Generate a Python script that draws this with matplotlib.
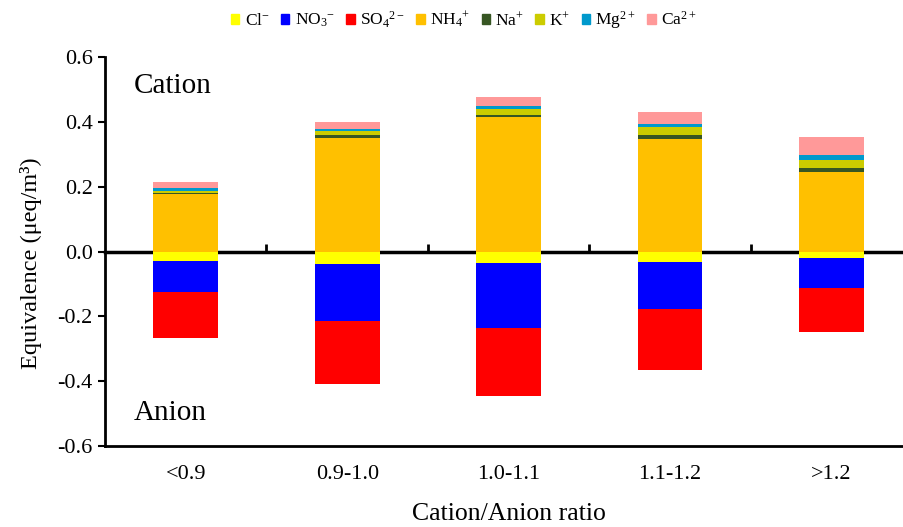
import numpy as np
import matplotlib
matplotlib.use("Agg")
import matplotlib.pyplot as plt
from matplotlib.patches import Patch

plt.rcParams['font.family'] = ['Liberation Serif', 'DejaVu Serif']
plt.rcParams['mathtext.fontset'] = 'custom'
plt.rcParams['mathtext.rm'] = 'Liberation Serif'
plt.rcParams['mathtext.it'] = 'Liberation Serif'
plt.rcParams['axes.unicode_minus'] = False

# data (ueq/m3)
categories = ['<0.9', '0.9-1.0', '1.0-1.1', '1.1-1.2', '>1.2']
cl = [0.028, 0.038, 0.036, 0.032, 0.020]
no3 = [0.098, 0.175, 0.200, 0.146, 0.091]
so4 = [0.140, 0.197, 0.210, 0.189, 0.136]
nh4 = [0.176, 0.351, 0.414, 0.347, 0.245]
na = [0.006, 0.008, 0.008, 0.012, 0.012]
k = [0.006, 0.012, 0.019, 0.024, 0.024]
mg = [0.008, 0.008, 0.009, 0.012, 0.016]
ca = [0.020, 0.022, 0.028, 0.036, 0.057]
yticks = [-0.6, -0.4, -0.2, 0.0, 0.2, 0.4, 0.6]

anions = [(r'Cl$^{\mathrm{-}}$', cl, '#FFFF00'),
          (r'NO$_3$$^{\mathrm{-}}$', no3, '#0000FF'),
          (r'SO$_4$$^{\mathrm{2-}}$', so4, '#FF0000')]
cations = [(r'NH$_4$$^{\mathrm{+}}$', nh4, '#FFC000'),
           (r'Na$^{\mathrm{+}}$', na, '#375623'),
           (r'K$^{\mathrm{+}}$', k, '#CCCC00'),
           (r'Mg$^{\mathrm{2+}}$', mg, '#0099CC'),
           (r'Ca$^{\mathrm{2+}}$', ca, '#FF9999')]

fig = plt.figure(figsize=(9.04, 5.27), dpi=100)
ax = fig.add_axes([0.1162, 0.1537, 0.893, 0.738])

x = np.arange(len(categories))
w = 0.4

bottom = np.zeros(len(x))
for name, vals, col in cations:
    ax.bar(x, vals, w, bottom=bottom, color=col, edgecolor='none')
    bottom += np.array(vals)

bottom = np.zeros(len(x))
for name, vals, col in anions:
    ax.bar(x, -np.array(vals), w, bottom=bottom, color=col, edgecolor='none')
    bottom -= np.array(vals)

ax.set_xlim(-0.5, len(x) - 0.5)
ax.set_ylim(-0.6, 0.6)
ax.set_yticks(yticks)
ax.set_yticklabels(['%.1f' % v for v in yticks], fontfamily='Liberation Serif')
ax.set_xticks(x)
ax.set_xticklabels(categories, fontfamily='Liberation Serif')
ax.tick_params(axis='x', length=0, labelsize=16, pad=14)
ax.tick_params(axis='y', direction='out', length=5, width=1.5, labelsize=16, pad=4)

for s in ['top', 'right']:
    ax.spines[s].set_visible(False)
ax.spines['left'].set_linewidth(2)
ax.spines['bottom'].set_linewidth(2)

# zero line with boundary ticks
zero = ax.secondary_xaxis(0.5)
zero.set_xticks(np.arange(len(x) - 1) + 0.5)
zero.tick_params(direction='out', length=6, width=2, labelbottom=False, labeltop=False)
zero.spines['bottom'].set_linewidth(2.5)
zero.spines['top'].set_linewidth(2.5)

ax.set_ylabel('Equivalence (μeq/m³)', fontsize=17.5)
ax.yaxis.set_label_coords(-0.078, 0.47)
ax.set_xlabel('Cation/Anion ratio', fontsize=18.5, labelpad=13)

ax.text(0.035, 0.925, 'Cation', transform=ax.transAxes, fontsize=21, va='center')
ax.text(0.035, 0.085, 'Anion', transform=ax.transAxes, fontsize=21, va='center')

handles = [Patch(color=c, label=n) for n, v, c in anions + cations]
fig.legend(handles=handles, loc='upper center', bbox_to_anchor=(0.513, 1.012),
           ncol=8, frameon=False, fontsize=12.5, handlelength=0.5, handleheight=0.5,
           handletextpad=0.3, columnspacing=0.65)

fig.savefig('out.png', dpi=100)
